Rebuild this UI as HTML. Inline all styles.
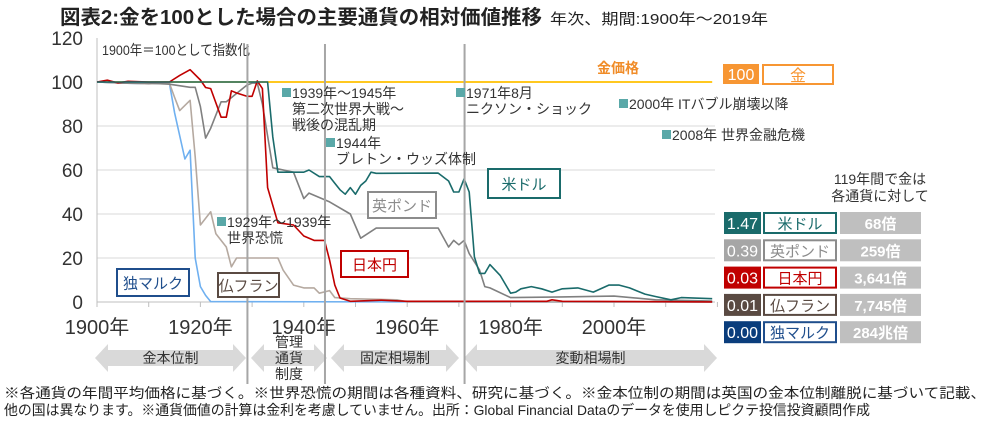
<!DOCTYPE html>
<html><head><meta charset="utf-8">
<style>
body{margin:0;background:#fff;width:1000px;height:422px;overflow:hidden;font-family:"Liberation Sans","Noto Sans CJK JP",sans-serif;}
svg text{font-family:"Liberation Sans","Noto Sans CJK JP",sans-serif;}
</style></head><body>
<svg id="c" width="1000" height="422" xmlns="http://www.w3.org/2000/svg">
<text x="60" y="24" font-size="20" font-weight="bold" fill="#222" textLength="482" lengthAdjust="spacingAndGlyphs">図表2:金を100とした場合の主要通貨の相対価値推移</text>
<text x="550" y="24" font-size="15" fill="#222" textLength="218" lengthAdjust="spacingAndGlyphs">年次、期間:1900年～2019年</text>
<text x="102" y="55" font-size="14" fill="#333" textLength="148" lengthAdjust="spacingAndGlyphs">1900年＝100として指数化</text>
<g id="grid"></g>
<g id="axes"></g>
<g id="lines"></g>
<g id="anno"></g>
<g id="legend"></g>
<text x="4" y="398" font-size="14" fill="#222" textLength="982" lengthAdjust="spacingAndGlyphs">※各通貨の年間平均価格に基づく。※世界恐慌の期間は各種資料、研究に基づく。※金本位制の期間は英国の金本位制離脱に基づいて記載、</text>
<text x="4" y="415" font-size="14" fill="#222" textLength="866" lengthAdjust="spacingAndGlyphs">他の国は異なります。※通貨価値の計算は金利を考慮していません。出所：Global Financial Dataのデータを使用しピクテ投信投資顧問作成</text>
</svg>
<script>
const yTicks=[0,20,40,60,80,100,120];
const xTickLabels=[1900,1920,1940,1960,1980,2000];
const goldYears=[1900,2019];
const goldVals=[100,100];
const usdYears=[1900,1933,1934,1935,1940,1941,1943,1945,1946,1947,1948,1949,1950,1951,1952,1953,1954,1966,1968,1969,1970,1971,1972,1973,1974,1975,1976,1978,1980,1981,1982,1984,1986,1988,1990,1993,1996,1999,2001,2003,2006,2008,2011,2013,2019];
const usdVals=[100,100,75,59,59,60,57,57,54,51,49,52,49,53,55,59,58.5,58.6,55,50,50,56,50,20.5,13,13,17,12,4,4.5,6,7,6,4.5,6,6.4,4.5,7.7,7.7,6.4,3.6,2.5,1,2,1.5];
const gbpYears=[1900,1905,1910,1914,1918,1919,1920,1921,1922,1924,1925,1929,1930,1931,1932,1934,1938,1940,1941,1945,1949,1951,1954,1966,1968,1969,1970,1971,1972,1974,1975,1976,1980,1990,2000,2008,2019];
const gbpVals=[100,99.5,99.5,99,97.6,97.6,88.8,74.5,79,91,91,98.6,99.5,99.5,90,61,59,47,49.5,45.5,40,29,33.6,33.6,25,28,26,28,22,14.5,7,6.4,2,2.3,2.7,1,0.4];
const jpyYears=[1900,1902,1904,1906,1910,1914,1916,1918,1920,1921,1922,1924,1925,1926,1927,1929,1930,1931,1932,1933,1935,1938,1940,1942,1944,1945,1946,1947,1949,1955,1960,1987,1988,1990,2019];
const jpyVals=[100,100.8,99.6,100.3,100,100,103,105.6,100.9,97.5,97,84,84,96,95,93.5,93.5,100.5,97,52,36,35,30,28,28,19,7.7,1.8,0.3,0.8,0.3,0.3,1,0.3,0.03];
const frfYears=[1900,1905,1910,1914,1915,1916,1918,1919,1920,1922,1923,1925,1926,1927,1935,1936,1938,1940,1942,1943,1945,1946,1949,1958,1960,2019];
const frfVals=[100,99.5,99.2,99.5,93,87,91.7,66,35,41,31,25,16,20,20,14.5,7.7,6.4,6.4,4,5.2,2,1.5,1,0.1,0.01];
const demYears=[1900,1905,1910,1914,1915,1917,1918,1919,1920,1921,1922,1970,2019];
const demVals=[100,99.5,99.2,99.5,86,65,69,20,7,3,0.2,0,0];

const svg=document.getElementById('c'),NS='http://www.w3.org/2000/svg';
const X0=97,YR0=1900,PX=5.17,Y0=302,PY=2.2;
const xs=y=>X0+(y-YR0)*PX, ys=v=>Y0-v*PY;
function el(tag,attrs,parent,txt){const e=document.createElementNS(NS,tag);for(const k in attrs)e.setAttribute(k,attrs[k]);if(txt!==undefined)e.textContent=txt;(parent||svg).appendChild(e);return e;}
const grid=document.getElementById('grid'),axes=document.getElementById('axes'),lines=document.getElementById('lines'),anno=document.getElementById('anno'),leg=document.getElementById('legend');
yTicks.forEach(t=>{
 if(t>0&&t<100){const g=el('line',{x1:X0,x2:715,y1:ys(t),y2:ys(t),stroke:'#d9d9d9','stroke-width':1},grid);
 
 }
 const l=el('text',{x:83,y:ys(t)+7,'font-size':19,'text-anchor':'end',fill:'#333'},axes,String(t));
 
 
});
el('line',{x1:X0,x2:X0,y1:38,y2:Y0,stroke:'#bfbfbf'},axes);
el('line',{x1:X0,x2:715,y1:Y0,y2:Y0,stroke:'#bfbfbf'},axes);
for(let y=1900;y<=2020;y+=10){el('line',{x1:xs(y),x2:xs(y),y1:Y0,y2:Y0+5,stroke:'#bfbfbf'},axes);}
xTickLabels.forEach(y=>{const t=el('text',{x:xs(y),y:334,'font-size':20,'text-anchor':'middle',fill:'#333'},axes,y+'年');
 
 });
function arrow(x1,x2,name,label){const yc=358,h=14,sh=8,hw=13;
 const p=el('polygon',{points:`${x1},${yc} ${x1+hw},${yc-h} ${x1+hw},${yc-sh} ${x2-hw},${yc-sh} ${x2-hw},${yc-h} ${x2},${yc} ${x2-hw},${yc+h} ${x2-hw},${yc+sh} ${x1+hw},${yc+sh} ${x1+hw},${yc+h}`,fill:'#d9d9d9'},axes);
 
 
 if(label)el('text',{x:(x1+x2)/2,y:yc+5,'font-size':14,'text-anchor':'middle',fill:'#333'},axes,label);}
arrow(95,246,'gold-standard-arrow','金本位制');
arrow(251,327,'managed-currency-arrow','');
arrow(331,459,'fixed-rate-arrow','固定相場制');
arrow(464,717,'floating-rate-arrow','変動相場制');
['管理','通貨','制度'].forEach((s,i)=>el('text',{x:289,y:347+i*16,'font-size':14,'text-anchor':'middle',fill:'#333'},axes,s));
function series(yrs,vals,color,name,w){const d=yrs.map((y,i)=>(i?'L':'M')+xs(y).toFixed(1)+','+ys(vals[i]).toFixed(1)).join(' ');
 const p=el('path',{d:d,fill:'none',stroke:color,'stroke-width':w||1.6,'stroke-linejoin':'round'},lines);
 
 }
series(goldYears,goldVals,'#ffc000','gold-line',1.8);
series(demYears,demVals,'#6fb0f0','dem-line');
series(frfYears,frfVals,'#b5a9a0','frf-line');
series(gbpYears,gbpVals,'#808080','gbp-line');
series(jpyYears,jpyVals,'#c00000','jpy-line');
series(usdYears,usdVals,'#1a6b6b','usd-line');
[1929,1944,1971].forEach(y=>{const l=el('line',{x1:xs(y)+0.5,x2:xs(y)+0.5,y1:44,y2:384,stroke:'#a6a6a6','stroke-width':2},anno);
 
 });
function note(x,y,l1,l2){el('rect',{x:x,y:y-10,width:9,height:9,fill:'#5aa8a8'},anno);el('text',{x:x+10,y:y,'font-size':14,fill:'#333'},anno,l1);if(l2)el('text',{x:x+10,y:y+16,'font-size':14,fill:'#333'},anno,l2);}
note(282,98,'1939年～1945年','第二次世界大戦～');
el('text',{x:292,y:130,'font-size':14,fill:'#333'},anno,'戦後の混乱期');
note(326,148,'1944年','ブレトン・ウッズ体制');
note(456,98,'1971年8月','ニクソン・ショック');
note(619,109,'2000年 ITバブル崩壊以降');
note(662,140,'2008年 世界金融危機');
note(217,227,'1929年～1939年','世界恐慌');
el('text',{x:618,y:73,'font-size':14,'text-anchor':'middle','font-weight':'bold',fill:'#f08c28'},anno,'金価格');
function box(x,y,w,h,c,txt,name){const r=el('rect',{x:x,y:y,width:w,height:h,fill:'#fff',stroke:c,'stroke-width':2},anno);
 
 
 el('text',{x:x+w/2,y:y+h/2+6,'font-size':15,'text-anchor':'middle',fill:c},anno,txt);}
box(117,269,72,27,'#1f4e8c','独マルク','dem-label');
box(218,273,61,24,'#5a4a42','仏フラン','frf-label');
box(341,251,67,26,'#c00000','日本円','jpy-label');
box(368,192,68,26,'#8c8c8c','英ポンド','gbp-label');
box(488,169,72,29,'#1a6b6b','米ドル','usd-label');
el('rect',{x:723,y:64,width:36,height:20,fill:'#f79633'},leg);
el('text',{x:741,y:80,'font-size':16,'text-anchor':'middle',fill:'#fff'},leg,'100');
el('rect',{x:763,y:65,width:70,height:19,fill:'#fff',stroke:'#f79633','stroke-width':2},leg);
el('text',{x:798,y:81,'font-size':16,'text-anchor':'middle',fill:'#f79633'},leg,'金');
el('text',{x:880,y:184,'font-size':14,'text-anchor':'middle',fill:'#333'},leg,'119年間で金は');
el('text',{x:880,y:201,'font-size':14,'text-anchor':'middle',fill:'#333'},leg,'各通貨に対して');
const tblVals=['1.47','0.39','0.03','0.01','0.00'];
const tblNames=['米ドル','英ポンド','日本円','仏フラン','独マルク'];
const tblMult=['68倍','259倍','3,641倍','7,745倍','284兆倍'];
const tblColors=['#1a6b6b','#a6a6a6','#c00000','#5a4a42','#0a3d7c'];
const tblBorders=['#1a6b6b','#8c8c8c','#c00000','#5a4a42','#1f4e8c'];
tblVals.forEach((v,i)=>{const y=212+i*27.3;
 const a=el('rect',{x:724,y:y,width:37,height:22,fill:tblColors[i]},leg);
 
 
 el('text',{x:742.5,y:y+17,'font-size':16,'text-anchor':'middle',fill:'#fff'},leg,v);
 el('rect',{x:764,y:y+1,width:72,height:20,fill:'#fff',stroke:tblBorders[i],'stroke-width':2},leg);
 el('text',{x:800,y:y+17,'font-size':15,'text-anchor':'middle',fill:tblBorders[i]},leg,tblNames[i]);
 el('rect',{x:840,y:y,width:81,height:22,fill:'#bfbfbf'},leg);
 el('text',{x:880.5,y:y+17,'font-size':15,'font-weight':'bold','text-anchor':'middle',fill:'#fff'},leg,tblMult[i]);
});
</script>
</body></html>
